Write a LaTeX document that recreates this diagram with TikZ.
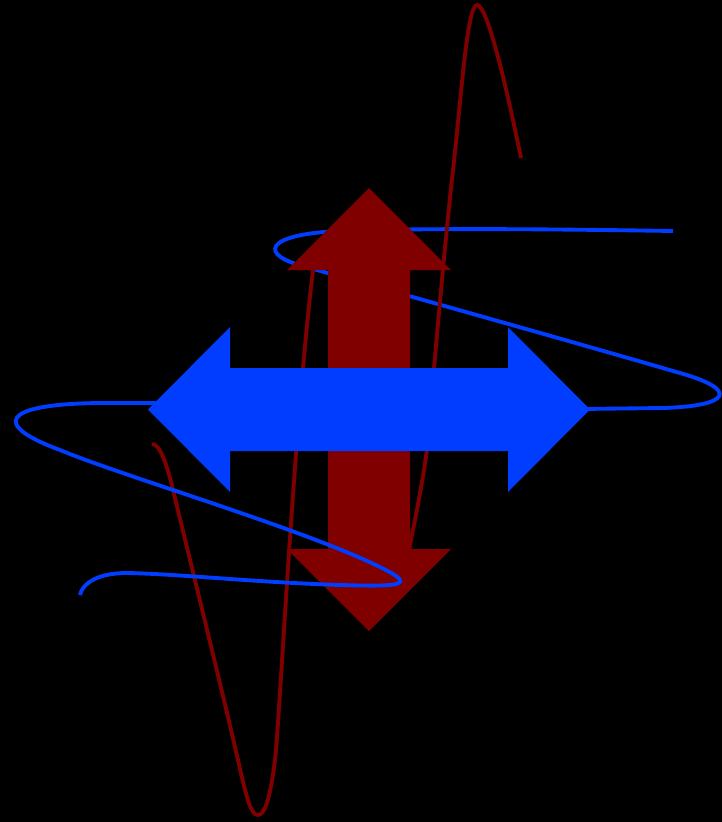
\documentclass[tikz,border=0pt]{standalone}
\usepackage{tikz}

\definecolor{fieldred}{RGB}{128,0,0}
\definecolor{fieldblue}{RGB}{0,61,255}

\begin{document}
\begin{tikzpicture}[
    x=0.02cm, y=-0.02cm,
    wave/.style={line width=2.2pt},
    bigarrow/.style={draw=none},
]
    % Background and frame
    \fill[black] (0,0) rectangle (722,822);
    \useasboundingbox (0,0) rectangle (722,822);

    % Upper half of the blue wave (behind the red arrow)
    \draw[wave, fieldblue] (673,231) .. controls (550,229) and (420,228) .. (340,231)
        .. controls (265,234) and (255,255) .. (310,268)
        .. controls (430,302) and (570,341) .. (680,373)
        .. controls (740,390) and (730,406) .. (663,408)
        -- (580,409);

    % Red wave
    \draw[wave, fieldred] (152,444) .. controls (160,443) and (168,468) .. (173,490)
        .. controls (190,560) and (222,690) .. (238,760)
        .. controls (247,800) and (251,815) .. (258,815)
        .. controls (266,815) and (272,790) .. (276,750)
        .. controls (282,675) and (295,420) .. (313,270)
        .. controls (319,222) and (345,222) .. (355,280)
        .. controls (366,340) and (392,565) .. (403,563)
        .. controls (407,562) and (409,552) .. (411,540)
        .. controls (416,515) and (425,470) .. (428,440)
        .. controls (432,390) and (445,240) .. (453,170)
        .. controls (461,100) and (467,5) .. (477,5)
        .. controls (487,5) and (505,80) .. (521,158);

    % Vertical double arrow
    \fill[bigarrow, fieldred] (369,188) -- (451,270) -- (410,270) -- (410,549)
        -- (451,549) -- (369,631) -- (287,549) -- (328,549) -- (328,270)
        -- (287,270) -- cycle;

    % Lower half of the blue wave (in front of the red arrow)
    \draw[wave, fieldblue] (160,403) -- (100,403)
        .. controls (0,404) and (-8,425) .. (60,450)
        .. controls (120,475) and (280,522) .. (365,560)
        .. controls (420,585) and (410,587) .. (340,585)
        .. controls (250,582) and (180,574) .. (127,573)
        .. controls (95,573) and (82,585) .. (80,595);

    % Horizontal double arrow
    \fill[bigarrow, fieldblue] (148,409.5) -- (230,327) -- (230,368) -- (508,368)
        -- (508,327) -- (590,409.5) -- (508,492) -- (508,451) -- (230,451)
        -- (230,492) -- cycle;
\end{tikzpicture}
\end{document}
